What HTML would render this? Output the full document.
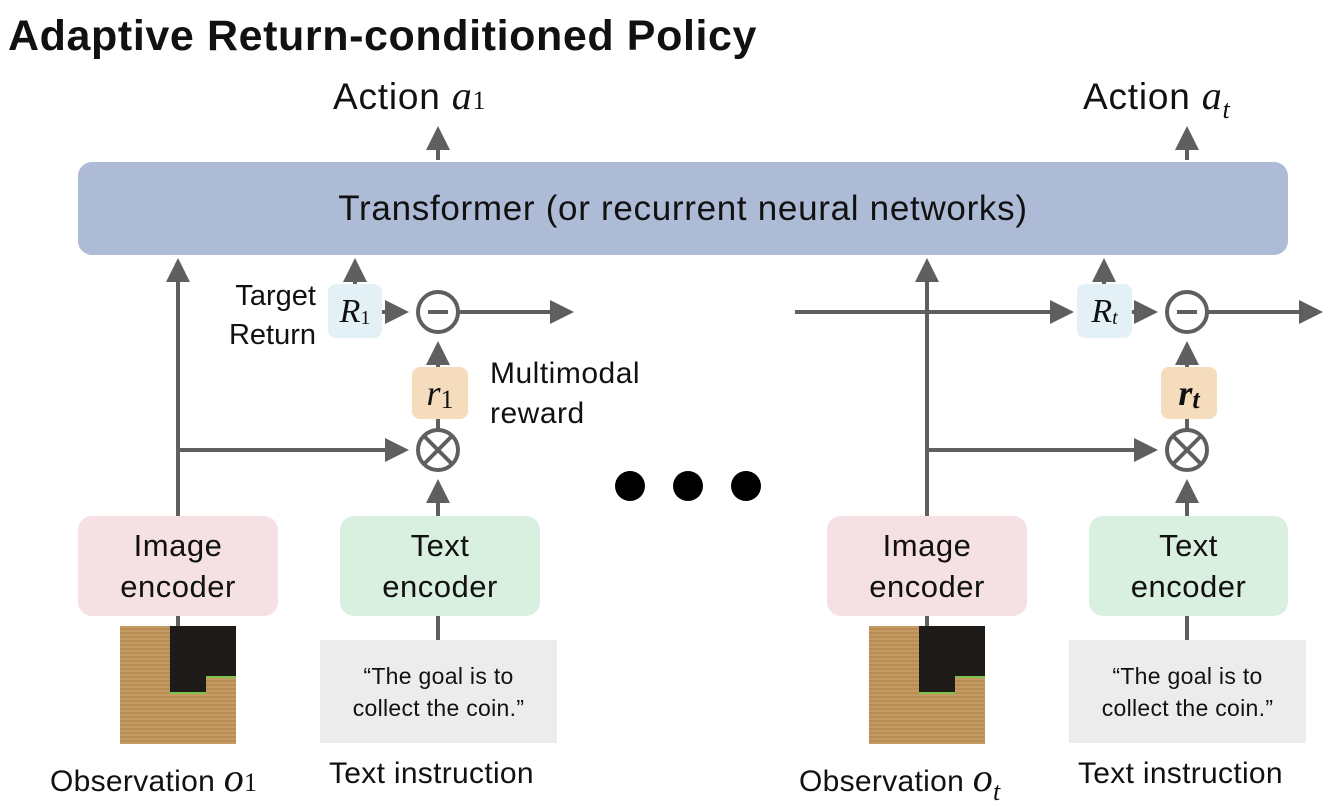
<!DOCTYPE html><html><head><style>
body{margin:0;width:1344px;height:804px;background:#fff;position:relative;overflow:hidden;font-family:"Liberation Sans",sans-serif;color:#111}
.a{position:absolute;white-space:nowrap}
.box{position:absolute;border-radius:14px;display:flex;align-items:center;justify-content:center;text-align:center;font-size:31px;line-height:41px;letter-spacing:0.5px}
.m{font-family:"Liberation Serif",serif;font-style:italic}
.game{position:absolute;width:116px;height:118px;background:repeating-linear-gradient(0deg,#c49a63 0 2px,#b88c55 2px 4px)}
.game .d1{position:absolute;left:50px;top:0;width:66px;height:52px;background:#1e1a18}
.game .d2{position:absolute;left:50px;top:52px;width:36px;height:14px;background:#1e1a18;border-bottom:2px solid #7dc24a}
.game .g{position:absolute;left:86px;top:50px;width:30px;height:2px;background:#7dc24a}
</style></head><body>
<div class="a" style="left:8px;top:12px;font-size:43px;font-weight:bold;letter-spacing:0.6px">Adaptive Return-conditioned Policy</div>
<div class="a" style="left:333px;top:72px;font-size:37px;letter-spacing:0.8px">Action <span class="m" style="font-size:40px">a</span><span style="font-family:'Liberation Serif';font-size:26px">1</span></div>
<div class="a" style="left:1083px;top:72px;font-size:37px;letter-spacing:0.8px">Action <span class="m" style="font-size:40px">a<sub style="font-size:26px">t</sub></span></div>
<div class="box" style="left:78px;top:162px;width:1210px;height:93px;background:#aebbd6;font-size:35px;letter-spacing:0.7px">Transformer (or recurrent neural networks)</div>
<svg class="a" style="left:0;top:0" width="1344" height="804">
<defs><marker id="ar" markerWidth="6" markerHeight="6" refX="5" refY="3" orient="auto" markerUnits="strokeWidth"><path d="M0,0 L6,3 L0,6z" fill="#5f5f5f"/></marker></defs>
<g stroke="#5f5f5f" stroke-width="4" fill="none">
<g id="c">
<line x1="438" y1="160" x2="438" y2="130" marker-end="url(#ar)"/>
<line x1="178" y1="517" x2="178" y2="262" marker-end="url(#ar)"/>
<line x1="178" y1="450" x2="405" y2="450" marker-end="url(#ar)"/>
<line x1="438" y1="517" x2="438" y2="483" marker-end="url(#ar)"/>
<line x1="438" y1="616" x2="438" y2="640"/>
<line x1="438" y1="429" x2="438" y2="418"/>
<line x1="438" y1="367" x2="438" y2="345" marker-end="url(#ar)"/>
<line x1="355" y1="284" x2="355" y2="262" marker-end="url(#ar)"/>
<line x1="382" y1="312" x2="405" y2="312" marker-end="url(#ar)"/>
<line x1="459" y1="312" x2="570" y2="312" marker-end="url(#ar)"/>
<line x1="178" y1="616" x2="178" y2="627"/>
<circle cx="438" cy="450" r="20"/><line x1="424" y1="436" x2="452" y2="464"/><line x1="452" y1="436" x2="424" y2="464"/>
<circle cx="438" cy="312" r="20"/><line x1="428" y1="312" x2="448" y2="312"/>
</g>
<use href="#c" x="749"/>
<line x1="795" y1="312" x2="1070" y2="312" marker-end="url(#ar)"/>
</g>
<circle cx="630" cy="486" r="15" fill="#000"/><circle cx="688" cy="486" r="15" fill="#000"/><circle cx="746" cy="486" r="15" fill="#000"/>
</svg>
<div class="box" style="left:328px;top:284px;width:54px;height:54px;background:#e3f1f7;border-radius:8px;letter-spacing:0"><span class="m" style="font-size:34px">R</span><span style="font-family:'Liberation Serif';font-size:20px;margin-top:14px">1</span></div>
<div class="box" style="left:1077px;top:284px;width:55px;height:54px;background:#e3f1f7;border-radius:8px;letter-spacing:0"><span class="m" style="font-size:34px">R</span><span class="m" style="font-size:20px;margin-top:14px">t</span></div>
<div class="box" style="left:412px;top:367px;width:56px;height:52px;background:#f4dcbc;border-radius:8px;letter-spacing:0"><span class="m" style="font-size:36px">r</span><span style="font-family:'Liberation Serif';font-size:26px;margin-top:12px">1</span></div>
<div class="box" style="left:1161px;top:367px;width:56px;height:52px;background:#f4dcbc;border-radius:8px;letter-spacing:0"><span class="m" style="font-size:36px;font-weight:bold">r</span><span class="m" style="font-size:26px;margin-top:12px;font-weight:bold">t</span></div>
<div class="a" style="left:214px;top:277px;font-size:29px;line-height:39px;text-align:right;width:102px">Target<br>Return</div>
<div class="a" style="left:490px;top:354px;font-size:30px;line-height:40px;letter-spacing:0.5px">Multimodal<br>reward</div>
<div class="box" style="left:78px;top:516px;width:200px;height:100px;background:#f5e0e3">Image<br>encoder</div>
<div class="box" style="left:340px;top:516px;width:200px;height:100px;background:#d9efe0">Text<br>encoder</div>
<div class="box" style="left:827px;top:516px;width:200px;height:100px;background:#f5e0e3">Image<br>encoder</div>
<div class="box" style="left:1089px;top:516px;width:199px;height:100px;background:#d9efe0">Text<br>encoder</div>
<div class="box" style="left:320px;top:640px;width:237px;height:103px;background:#ececec;border-radius:0;font-size:23px;line-height:32px;letter-spacing:0.3px">“The goal is to<br>collect the coin.”</div>
<div class="box" style="left:1069px;top:640px;width:237px;height:103px;background:#ececec;border-radius:0;font-size:23px;line-height:32px;letter-spacing:0.3px">“The goal is to<br>collect the coin.”</div>
<div class="game" style="left:120px;top:626px"><div class="d1"></div><div class="d2"></div><div class="g"></div></div>
<div class="game" style="left:869px;top:626px"><div class="d1"></div><div class="d2"></div><div class="g"></div></div>
<div class="a" style="left:50px;top:754px;font-size:30px;letter-spacing:0.3px">Observation <span class="m" style="font-size:40px">o</span><span style="font-family:'Liberation Serif';font-size:26px">1</span></div>
<div class="a" style="left:329px;top:757px;font-size:30px;letter-spacing:0.3px">Text instruction</div>
<div class="a" style="left:799px;top:754px;font-size:30px;letter-spacing:0.3px">Observation <span class="m" style="font-size:40px">o<sub style="font-size:26px">t</sub></span></div>
<div class="a" style="left:1078px;top:757px;font-size:30px;letter-spacing:0.3px">Text instruction</div>
</body></html>
